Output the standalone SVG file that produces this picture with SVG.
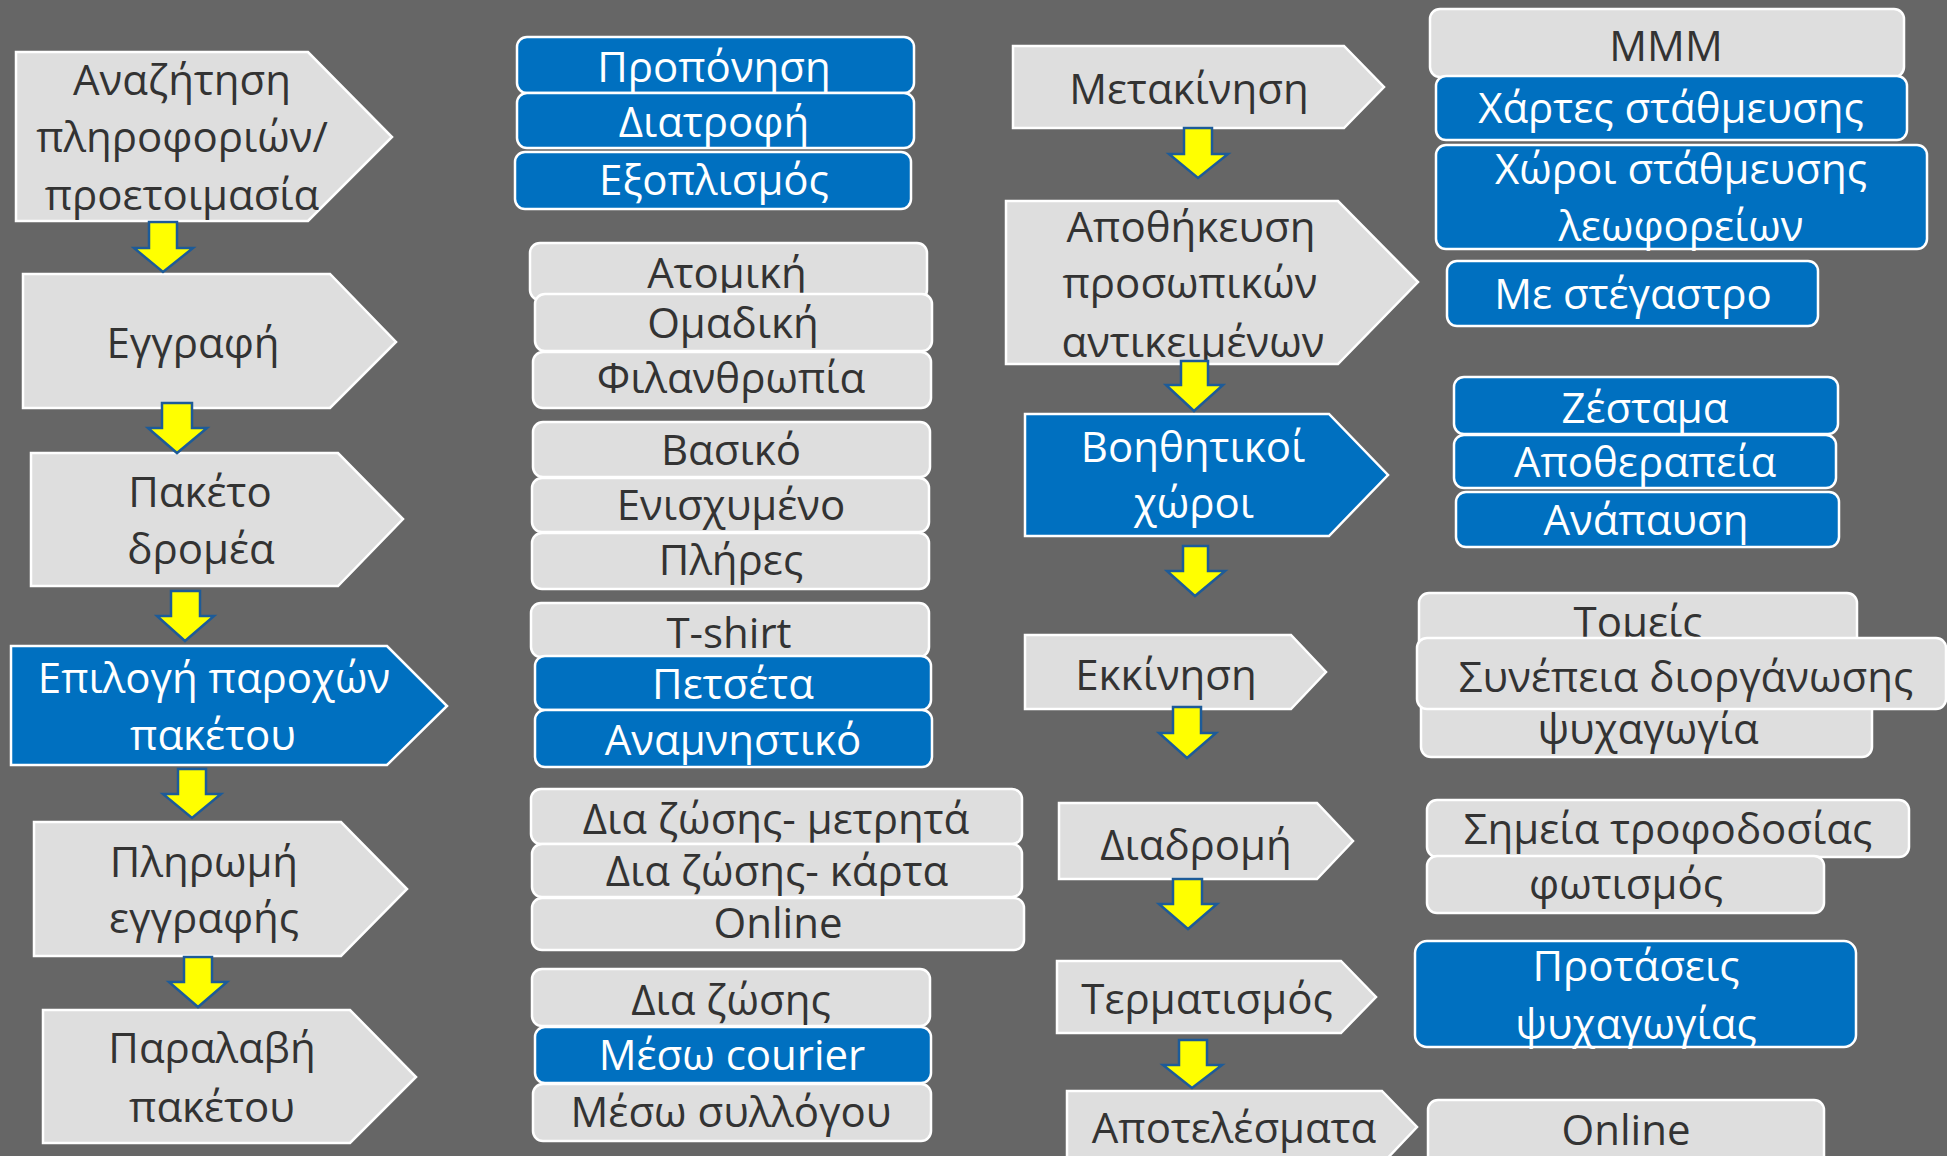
<svg xmlns="http://www.w3.org/2000/svg" width="1947" height="1156" viewBox="0 0 1947 1156">
  <style>
    .g { fill: #dedede; stroke: #ffffff; stroke-width: 2.5; }
    .b { fill: #0070c0; stroke: #ffffff; stroke-width: 2.5; }
    text { font-family: "Open Sans", "Noto Sans", "DejaVu Sans", sans-serif; text-anchor: middle; font-size: 42px; }
    .td { fill: #333333; }
    .tw { fill: #ffffff; }
    .arr { fill: #ffff00; stroke: #1d5b98; stroke-width: 2.5; stroke-linejoin: miter; }
  </style>
  <rect width="1947" height="1156" fill="#666666"/>

  <!-- left flow -->
  <g id="step-search">
    <polygon class="g" points="16,52 308,52 392,137 308,221 16,221"/>
    <text class="td" x="182" y="95">Αναζήτηση</text>
    <text class="td" x="182" y="152">πληροφοριών/</text>
    <text class="td" x="182" y="210">προετοιμασία</text>
  </g>
  <g id="step-register">
    <polygon class="g" points="23,274 330,274 396,342 330,408 23,408"/>
    <text class="td" x="193" y="358">Εγγραφή</text>
  </g>
  <g id="step-package">
    <polygon class="g" points="31,453 338,453 403,519 338,586 31,586"/>
    <text class="td" x="200" y="507">Πακέτο</text>
    <text class="td" x="201" y="564">δρομέα</text>
  </g>
  <g id="step-options">
    <polygon class="b" points="11,646 387,646 447,706 387,765 11,765"/>
    <text class="tw" x="214" y="693">Επιλογή παροχών</text>
    <text class="tw" x="213" y="750">πακέτου</text>
  </g>
  <g id="step-payment">
    <polygon class="g" points="34,822 341,822 407,889 341,956 34,956"/>
    <text class="td" x="204" y="877">Πληρωμή</text>
    <text class="td" x="204" y="933">εγγραφής</text>
  </g>
  <g id="step-pickup">
    <polygon class="g" points="43,1010 350,1010 416,1077 350,1143 43,1143"/>
    <text class="td" x="212" y="1063">Παραλαβή</text>
    <text class="td" x="212" y="1122">πακέτου</text>
  </g>

  <!-- middle options -->
  <g id="opt-training">
    <rect class="b" x="517" y="37" width="397" height="56" rx="10"/>
    <text class="tw" x="714" y="82">Προπόνηση</text>
  </g>
  <g id="opt-nutrition">
    <rect class="b" x="517" y="93" width="397" height="55" rx="10"/>
    <text class="tw" x="714" y="137">Διατροφή</text>
  </g>
  <g id="opt-equipment">
    <rect class="b" x="515" y="152" width="396" height="57" rx="10"/>
    <text class="tw" x="714" y="195">Εξοπλισμός</text>
  </g>

  <g id="opt-single">
    <rect class="g" x="530" y="243" width="397" height="57" rx="10"/>
    <text class="td" x="727" y="288">Ατομική</text>
  </g>
  <g id="opt-team">
    <rect class="g" x="535" y="294" width="397" height="57" rx="10"/>
    <text class="td" x="733" y="338">Ομαδική</text>
  </g>
  <g id="opt-charity">
    <rect class="g" x="533" y="352" width="398" height="56" rx="10"/>
    <text class="td" x="731" y="393">Φιλανθρωπία</text>
  </g>

  <g id="opt-basic">
    <rect class="g" x="533" y="422" width="397" height="55" rx="10"/>
    <text class="td" x="731" y="465">Βασικό</text>
  </g>
  <g id="opt-plus">
    <rect class="g" x="532" y="478" width="397" height="54" rx="10"/>
    <text class="td" x="731" y="520">Ενισχυμένο</text>
  </g>
  <g id="opt-full">
    <rect class="g" x="532" y="533" width="397" height="56" rx="10"/>
    <text class="td" x="731" y="575">Πλήρες</text>
  </g>

  <g id="opt-tshirt">
    <rect class="g" x="531" y="603" width="398" height="54" rx="10"/>
    <text class="td" x="729" y="648">T-shirt</text>
  </g>
  <g id="opt-towel">
    <rect class="b" x="535" y="656" width="396" height="54" rx="10"/>
    <text class="tw" x="733" y="699">Πετσέτα</text>
  </g>
  <g id="opt-souvenir">
    <rect class="b" x="535" y="710" width="397" height="57" rx="10"/>
    <text class="tw" x="733" y="755">Αναμνηστικό</text>
  </g>

  <g id="pay-cash">
    <rect class="g" x="531" y="789" width="491" height="55" rx="10"/>
    <text class="td" x="776" y="834">Δια ζώσης- μετρητά</text>
  </g>
  <g id="pay-card">
    <rect class="g" x="532" y="844" width="490" height="53" rx="10"/>
    <text class="td" x="777" y="886">Δια ζώσης- κάρτα</text>
  </g>
  <g id="pay-online">
    <rect class="g" x="532" y="898" width="492" height="52" rx="10"/>
    <text class="td" x="778" y="938">Online</text>
  </g>

  <g id="pick-person">
    <rect class="g" x="532" y="969" width="398" height="57" rx="10"/>
    <text class="td" x="731" y="1015">Δια ζώσης</text>
  </g>
  <g id="pick-courier">
    <rect class="b" x="535" y="1027" width="396" height="56" rx="10"/>
    <text class="tw" x="732" y="1070">Μέσω courier</text>
  </g>
  <g id="pick-club">
    <rect class="g" x="533" y="1084" width="398" height="57" rx="10"/>
    <text class="td" x="731" y="1127">Μέσω συλλόγου</text>
  </g>

  <!-- right flow -->
  <g id="step-transport">
    <polygon class="g" points="1013,46 1344,46 1384,87 1344,128 1013,128"/>
    <text class="td" x="1189" y="104">Μετακίνηση</text>
  </g>
  <g id="step-storage">
    <polygon class="g" points="1006,201 1338,201 1418,282 1338,364 1006,364"/>
    <text class="td" x="1191" y="242">Αποθήκευση</text>
    <text class="td" x="1190" y="298">προσωπικών</text>
    <text class="td" x="1193" y="357">αντικειμένων</text>
  </g>
  <g id="step-facilities">
    <polygon class="b" points="1025,414 1329,414 1388,475 1329,536 1025,536"/>
    <text class="tw" x="1193" y="462">Βοηθητικοί</text>
    <text class="tw" x="1194" y="518">χώροι</text>
  </g>
  <g id="step-start">
    <polygon class="g" points="1025,635 1291,635 1326,672 1291,709 1025,709"/>
    <text class="td" x="1166" y="690">Εκκίνηση</text>
  </g>
  <g id="step-route">
    <polygon class="g" points="1059,803 1317,803 1353,841 1317,879 1059,879"/>
    <text class="td" x="1196" y="860">Διαδρομή</text>
  </g>
  <g id="step-finish">
    <polygon class="g" points="1057,961 1341,961 1376,997 1341,1033 1057,1033"/>
    <text class="td" x="1207" y="1014">Τερματισμός</text>
  </g>
  <g id="step-results">
    <polygon class="g" points="1067,1091 1382,1091 1417,1127 1382,1164 1067,1164"/>
    <text class="td" x="1234" y="1143">Αποτελέσματα</text>
  </g>

  <!-- right options -->
  <g id="opt-transit">
    <rect class="g" x="1430" y="9" width="474" height="68" rx="10"/>
    <text class="td" x="1666" y="61">ΜΜΜ</text>
  </g>
  <g id="opt-parking-maps">
    <rect class="b" x="1436" y="76" width="471" height="64" rx="10"/>
    <text class="tw" x="1671" y="123">Χάρτες στάθμευσης</text>
  </g>
  <g id="opt-bus-parking">
    <rect class="b" x="1436" y="145" width="491" height="104" rx="10"/>
    <text class="tw" x="1681" y="184">Χώροι στάθμευσης</text>
    <text class="tw" x="1681" y="241">λεωφορείων</text>
  </g>
  <g id="opt-shelter">
    <rect class="b" x="1447" y="261" width="371" height="65" rx="10"/>
    <text class="tw" x="1633" y="309">Με στέγαστρο</text>
  </g>
  <g id="opt-warmup">
    <rect class="b" x="1454" y="377" width="384" height="57" rx="10"/>
    <text class="tw" x="1645" y="423">Ζέσταμα</text>
  </g>
  <g id="opt-recovery">
    <rect class="b" x="1454" y="435" width="382" height="53" rx="10"/>
    <text class="tw" x="1645" y="477">Αποθεραπεία</text>
  </g>
  <g id="opt-rest">
    <rect class="b" x="1456" y="492" width="383" height="55" rx="10"/>
    <text class="tw" x="1646" y="535">Ανάπαυση</text>
  </g>
  <g id="opt-sectors">
    <rect class="g" x="1419" y="593" width="438" height="70" rx="10"/>
    <text class="td" x="1638" y="637">Τομείς</text>
  </g>
  <g id="opt-entertainment">
    <rect class="g" x="1421" y="690" width="451" height="67" rx="10"/>
    <text class="td" x="1648" y="744">ψυχαγωγία</text>
  </g>
  <g id="opt-consistency">
    <rect class="g" x="1417" y="638" width="529" height="71" rx="10"/>
    <text class="td" x="1686" y="692">Συνέπεια διοργάνωσης</text>
  </g>
  <g id="opt-water">
    <rect class="g" x="1427" y="800" width="482" height="57" rx="10"/>
    <text class="td" x="1668" y="844">Σημεία τροφοδοσίας</text>
  </g>
  <g id="opt-lighting">
    <rect class="g" x="1427" y="856" width="397" height="57" rx="10"/>
    <text class="td" x="1626" y="899">φωτισμός</text>
  </g>
  <g id="opt-suggestions">
    <rect class="b" x="1415" y="941" width="441" height="106" rx="12"/>
    <text class="tw" x="1636" y="981">Προτάσεις</text>
    <text class="tw" x="1636" y="1039">ψυχαγωγίας</text>
  </g>
  <g id="opt-results-online">
    <rect class="g" x="1428" y="1100" width="396" height="70" rx="10"/>
    <text class="td" x="1626" y="1145">Online</text>
  </g>

  <!-- connectors: block arrows between steps -->
  <g id="connectors">
    <polygon class="arr" points="149,222 177,222 177,248 193,248 163,272 134,248 149,248"/>
    <polygon class="arr" points="162,403 192,403 192,428 207,428 177,453 148,428 162,428"/>
    <polygon class="arr" points="171,591 200,591 200,616 214,616 185,641 157,616 171,616"/>
    <polygon class="arr" points="178,769 206,769 206,794 221,794 192,818 163,794 178,794"/>
    <polygon class="arr" points="184,957 212,957 212,982 227,982 198,1007 169,982 184,982"/>
    <polygon class="arr" points="1184,128 1212,128 1212,154 1228,154 1198,178 1169,154 1184,154"/>
    <polygon class="arr" points="1181,361 1208,361 1208,385 1223,385 1194,411 1166,385 1181,385"/>
    <polygon class="arr" points="1183,546 1208,546 1208,571 1225,571 1195,596 1167,571 1183,571"/>
    <polygon class="arr" points="1173,707 1201,707 1201,733 1216,733 1187,758 1159,733 1173,733"/>
    <polygon class="arr" points="1173,879 1202,879 1202,904 1217,904 1188,929 1159,904 1173,904"/>
    <polygon class="arr" points="1179,1040 1207,1040 1207,1065 1222,1065 1192,1088 1163,1065 1179,1065"/>
  </g>
</svg>
